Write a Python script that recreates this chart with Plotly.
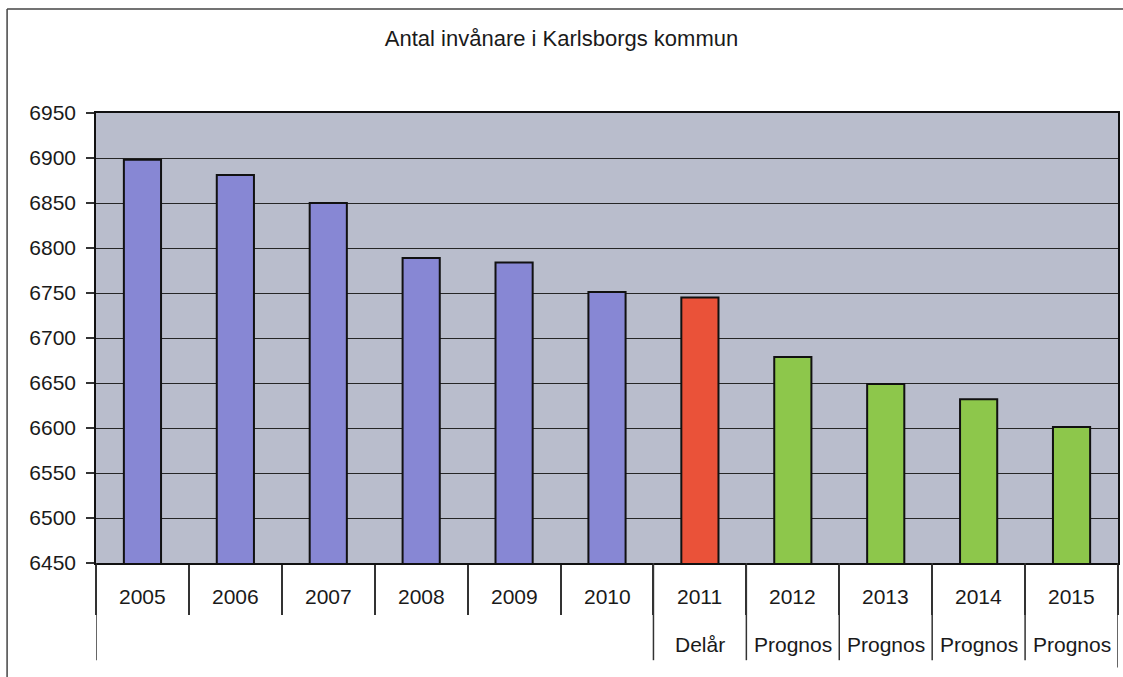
import plotly.graph_objects as go

years = ["2005", "2006", "2007", "2008", "2009", "2010", "2011", "2012", "2013", "2014", "2015"]
inhabitants = [6898, 6881, 6850, 6789, 6784, 6751, 6745, 6679, 6649, 6632, 6601]
sub_labels = ["", "", "", "", "", "", "Delår", "Prognos", "Prognos", "Prognos", "Prognos"]
bar_colors = ["#8787d4"] * 6 + ["#ea5239"] + ["#8dc74b"] * 4

FONT = "Liberation Sans, Arial, sans-serif"
INK = "#1a1a1a"
LABEL_SIZE = 21

fig = go.Figure()
fig.add_trace(
    go.Bar(
        x=years,
        y=inhabitants,
        marker=dict(color=bar_colors, line=dict(color="#111111", width=2)),
        width=0.4,
        showlegend=False,
    )
)

# label table below the plot (category index positions)
annotations = []
for i, (yr, sub) in enumerate(zip(years, sub_labels)):
    annotations.append(dict(x=i, y=-0.075, xref="x", yref="paper", text=yr,
                            yanchor="middle", xanchor="center", showarrow=False,
                            font=dict(size=LABEL_SIZE, color=INK, family=FONT)))
    if sub:
        annotations.append(dict(x=i, y=-0.182, xref="x", yref="paper", text=sub,
                                yanchor="middle", xanchor="center", showarrow=False,
                                font=dict(size=LABEL_SIZE, color=INK, family=FONT)))

shapes = []
# second-row dividers: left edge, then from 2011 onwards
for pos in [-0.5, 5.5, 6.5, 7.5, 8.5, 9.5]:
    shapes.append(dict(type="line", xref="x", yref="paper", x0=pos, x1=pos,
                       y0=0, y1=-0.216, line=dict(color="#333333", width=1.5)))
shapes.append(dict(type="line", xref="x", yref="paper", x0=10.5, x1=10.5,
                   y0=0, y1=-0.232, line=dict(color="#333333", width=1.5)))
# outer frame of the chart
shapes.append(dict(type="line", xref="paper", yref="paper", x0=-0.087, x1=1.01,
                   y0=1.231, y1=1.231, line=dict(color="#444444", width=1.5)))
shapes.append(dict(type="line", xref="paper", yref="paper", x0=-0.087, x1=-0.087,
                   y0=1.231, y1=-0.26, line=dict(color="#444444", width=1.5)))

fig.update_layout(
    width=1123,
    height=677,
    paper_bgcolor="white",
    plot_bgcolor="#b9bdcc",
    margin=dict(l=96, r=3, t=113, b=114),
    font=dict(family=FONT, color=INK, size=LABEL_SIZE),
    title=dict(text="Antal invånare i Karlsborgs kommun", x=0.5, xanchor="center",
               y=0.944, yanchor="middle", yref="container",
               font=dict(size=22, color=INK, family=FONT)),
    xaxis=dict(
        type="category",
        range=[-0.5, 10.5],
        tickson="boundaries",
        ticks="outside",
        ticklen=50,
        tickwidth=1.5,
        tickcolor="#333333",
        showticklabels=False,
        showgrid=False,
        showline=True,
        linecolor="#111111",
        linewidth=1.5,
        mirror=True,
    ),
    yaxis=dict(
        range=[6450, 6950],
        tickvals=list(range(6450, 6951, 50)),
        ticks="outside",
        ticklen=8,
        tickwidth=1.5,
        tickcolor="#333333",
        ticklabelstandoff=6,
        showgrid=True,
        gridcolor="#262626",
        gridwidth=1.2,
        showline=True,
        linecolor="#111111",
        linewidth=1.5,
        mirror=True,
        zeroline=False,
        tickfont=dict(size=LABEL_SIZE, color=INK, family=FONT),
    ),
    annotations=annotations,
    shapes=shapes,
    bargap=0.6,
)

fig.write_html("out.html", config={"displayModeBar": False},
               post_script="document.body.style.margin='0';")
